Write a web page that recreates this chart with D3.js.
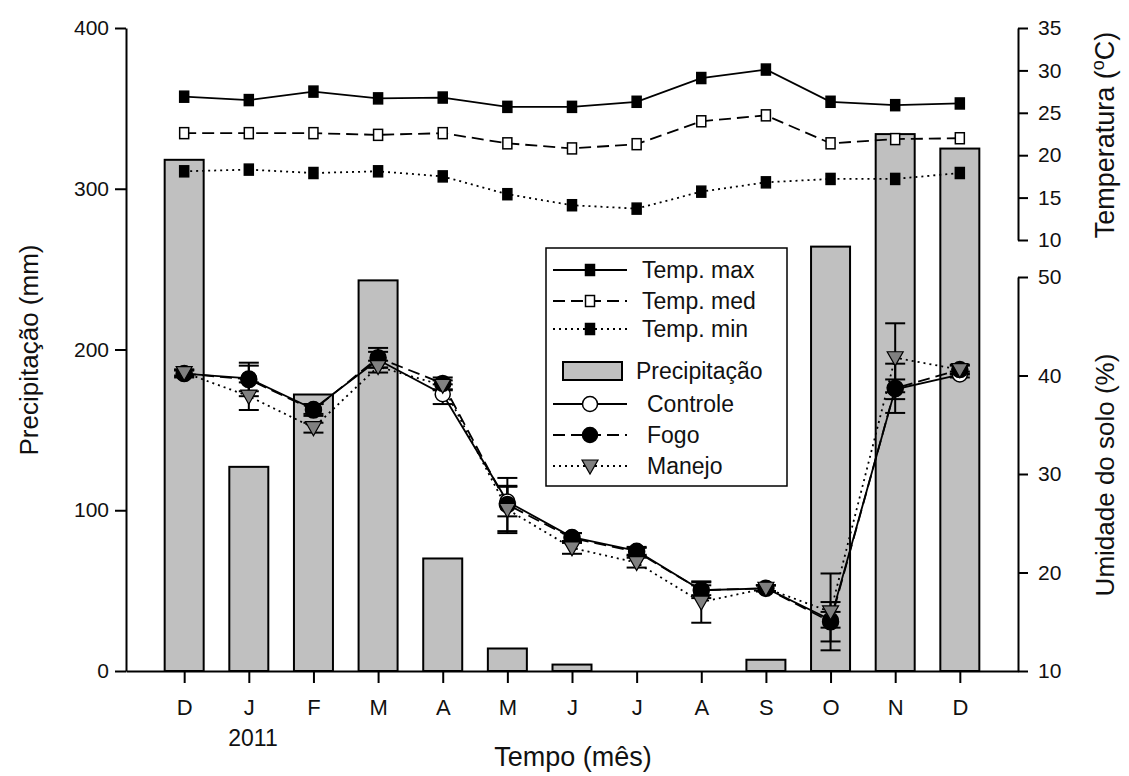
<!DOCTYPE html>
<html><head><meta charset="utf-8">
<script src="https://cdnjs.cloudflare.com/ajax/libs/d3/7.8.5/d3.min.js"></script>
<style>body{margin:0;background:#fff}svg{display:block;font-family:"Liberation Sans",Arial,sans-serif}</style>
</head><body><svg id="c" width="1129" height="776"></svg>
<script>
const months = ["D","J","F","M","A","M","J","J","A","S","O","N","D"];
const precip = [318,127,172,243,70,14,4,0,0,7,264,334,325];
const tempMax = [26.9,26.5,27.5,26.7,26.8,25.7,25.7,26.3,29.1,30.1,26.3,25.9,26.1];
const tempMed = [22.6,22.6,22.6,22.4,22.6,21.4,20.8,21.3,24.0,24.7,21.4,21.9,22.0];
const tempMin = [18.1,18.3,17.9,18.1,17.5,15.4,14.1,13.7,15.7,16.8,17.2,17.2,17.9];
const controle = [40.2,39.7,36.6,41.6,38.1,27.2,23.6,22.2,18.2,18.4,15.2,38.6,40.1];
const fogo = [40.2,39.6,36.5,41.8,39.2,26.9,23.5,22.1,18.2,18.4,15.0,38.7,40.6];
const manejo = [40.3,37.9,34.7,40.9,39.0,26.4,22.5,21.0,17.0,18.4,16.0,41.8,40.6];
const controleErr = [0.3,1.3,0.5,0.8,1.0,1.5,0.4,0.4,0.5,0.3,0.8,1.0,0.3];
const fogoErr = [0.4,1.7,0.6,1.0,0.6,2.7,0.5,0.4,0.8,0.3,2.0,2.5,0.5];
const manejoErr = [0.3,1.4,0.5,0.6,0.5,2.4,0.6,0.5,2.1,0.3,3.9,3.5,0.4];
const precipTicks = [0,100,200,300,400];
const tempTicks = [10,15,20,25,30,35];
const humTicks = [10,20,30,40,50];

const svg = d3.select("#c");
const L = 126, R = 1018, B = 671, T = 28;
const x = d3.scalePoint().domain(d3.range(months.length)).range([L, R]).padding(0.9);
const yP = d3.scaleLinear().domain([0,400]).range([B, T]);
const yT = d3.scaleLinear().domain([10,35]).range([240, T]);
const yH = d3.scaleLinear().domain([10,50]).range([B, 277]);
const idx = d3.range(months.length);

// bars
svg.append("g").selectAll("rect").data(idx).join("rect")
  .attr("x", i => x(i) - 19.5).attr("width", 39)
  .attr("y", i => yP(precip[i])).attr("height", i => B - yP(precip[i]))
  .attr("fill", "#c0c0c0").attr("stroke", "#000").attr("stroke-width", 2);

// axes
function styleAxis(g){ g.selectAll("path,line").attr("stroke","#000").attr("stroke-width",2);
  g.selectAll("text").attr("fill","#111").style("font-size","21px").style("font-family",'"Liberation Sans",Arial,sans-serif'); }
svg.append("g").attr("transform",`translate(${L},0)`)
  .call(d3.axisLeft(yP).tickValues(precipTicks).tickSize(11).tickSizeOuter(0).tickPadding(6)).call(styleAxis);
const xa = svg.append("g").attr("transform",`translate(0,${B})`)
  .call(d3.axisBottom(x).tickFormat(i => months[i]).tickSize(12).tickSizeOuter(0).tickPadding(16)).call(styleAxis);
xa.selectAll("text").style("font-size","22px");
svg.append("g").attr("transform",`translate(${R},0)`)
  .call(d3.axisRight(yT).tickValues(tempTicks).tickSize(10).tickSizeOuter(0).tickPadding(10)).call(styleAxis);
svg.append("g").attr("transform",`translate(${R},0)`)
  .call(d3.axisRight(yH).tickValues(humTicks).tickSize(10).tickSizeOuter(0).tickPadding(10)).call(styleAxis);

// temperature lines
const tSeries = [
  {v: tempMax, dash: null, fill: "#000"},
  {v: tempMed, dash: "12,6", fill: "#fff"},
  {v: tempMin, dash: "2,4", fill: "#000"}
];
tSeries.forEach(s => {
  svg.append("path").datum(idx).attr("fill","none").attr("stroke","#000").attr("stroke-width",1.8)
    .attr("stroke-dasharray", s.dash)
    .attr("d", d3.line().x(i => x(i)).y(i => yT(s.v[i])));
});
tSeries.forEach(s => {
  svg.append("g").selectAll("rect").data(idx).join("rect")
    .attr("x", i => x(i) - 4.5).attr("y", i => yT(s.v[i]) - 5.5).attr("width", 9).attr("height", 11)
    .attr("fill", s.fill).attr("stroke", "#000").attr("stroke-width", 1.5);
});

// soil humidity lines
const hSeries = [
  {v: controle, e: controleErr, dash: null},
  {v: fogo, e: fogoErr, dash: "12,6"},
  {v: manejo, e: manejoErr, dash: "2,4"}
];
hSeries.forEach(s => {
  svg.append("path").datum(idx).attr("fill","none").attr("stroke","#000").attr("stroke-width",1.8)
    .attr("stroke-dasharray", s.dash)
    .attr("d", d3.line().x(i => x(i)).y(i => yH(s.v[i])));
});
hSeries.forEach(s => {
  const g = svg.append("g").attr("stroke","#000").attr("stroke-width",2);
  idx.forEach(i => {
    const y1 = yH(s.v[i] + s.e[i]), y0 = yH(s.v[i] - s.e[i]), cx = x(i);
    g.append("line").attr("x1",cx).attr("x2",cx).attr("y1",y1).attr("y2",y0);
    g.append("line").attr("x1",cx-10).attr("x2",cx+10).attr("y1",y1).attr("y2",y1);
    g.append("line").attr("x1",cx-10).attr("x2",cx+10).attr("y1",y0).attr("y2",y0);
  });
});
svg.append("g").selectAll("circle").data(idx).join("circle")
  .attr("cx", i => x(i)).attr("cy", i => yH(controle[i])).attr("r", 7.5)
  .attr("fill","#fff").attr("stroke","#000").attr("stroke-width",1.5);
svg.append("g").selectAll("circle").data(idx).join("circle")
  .attr("cx", i => x(i)).attr("cy", i => yH(fogo[i])).attr("r", 8)
  .attr("fill","#000").attr("stroke","#000").attr("stroke-width",1.5);
const tri = (cx, cy) => `M${cx-8},${cy-6}L${cx+8},${cy-6}L${cx},${cy+8}Z`;
svg.append("g").selectAll("path").data(idx).join("path")
  .attr("d", i => tri(x(i), yH(manejo[i])))
  .attr("fill","#808080").attr("stroke","#000").attr("stroke-width",1.2);

// legend
const lg = svg.append("g");
lg.append("rect").attr("x",546).attr("y",248).attr("width",241).attr("height",238)
  .attr("fill","#fff").attr("stroke","#000").attr("stroke-width",1.5);
const legItems = [
  {label:"Temp. max", y:270, dash:null, type:"sq", fill:"#000", tx:642},
  {label:"Temp. med", y:301, dash:"12,6", type:"sq", fill:"#fff", tx:642},
  {label:"Temp. min", y:329, dash:"2,4", type:"sq", fill:"#000", tx:642},
  {label:"Precipitação", y:371, type:"bar", tx:636},
  {label:"Controle", y:404, dash:null, type:"circ", fill:"#fff", tx:647},
  {label:"Fogo", y:435, dash:"12,6", type:"circ", fill:"#000", tx:647},
  {label:"Manejo", y:466, dash:"2,4", type:"tri", tx:647}
];
legItems.forEach(it => {
  if (it.type === "bar") {
    lg.append("rect").attr("x",563).attr("y",it.y-9).attr("width",59).attr("height",18)
      .attr("fill","#c0c0c0").attr("stroke","#000").attr("stroke-width",2);
  } else {
    lg.append("line").attr("x1",553).attr("x2",627).attr("y1",it.y).attr("y2",it.y)
      .attr("stroke","#000").attr("stroke-width",1.8).attr("stroke-dasharray",it.dash);
    if (it.type === "sq") lg.append("rect").attr("x",585.5).attr("y",it.y-5.5).attr("width",9).attr("height",11)
      .attr("fill",it.fill).attr("stroke","#000").attr("stroke-width",1.5);
    if (it.type === "circ") lg.append("circle").attr("cx",590).attr("cy",it.y).attr("r",7.5)
      .attr("fill",it.fill).attr("stroke","#000").attr("stroke-width",1.5);
    if (it.type === "tri") lg.append("path").attr("d",tri(590,it.y)).attr("fill","#808080").attr("stroke","#000").attr("stroke-width",1.2);
  }
  lg.append("text").attr("x",it.tx).attr("y",it.y).attr("dy","0.35em").style("font-size","23px").attr("fill","#111").text(it.label);
});

// titles
svg.append("text").attr("x",573).attr("y",766).attr("text-anchor","middle").style("font-size","27px").attr("fill","#111").text("Tempo (mês)");
svg.append("text").attr("x",253).attr("y",746).attr("text-anchor","middle").style("font-size","23px").attr("fill","#111").text("2011");
svg.append("text").attr("transform","translate(38,350) rotate(-90)").attr("text-anchor","middle").style("font-size","26px").attr("fill","#111").text("Precipitação (mm)");
const tt = svg.append("text").attr("transform","translate(1114,135) rotate(-90)").attr("text-anchor","middle").style("font-size","27px").attr("fill","#111");
tt.append("tspan").text("Temperatura (");
tt.append("tspan").attr("dy","-10").style("font-size","18px").text("o");
tt.append("tspan").attr("dy","10").text("C)");
svg.append("text").attr("transform","translate(1114,475) rotate(-90)").attr("text-anchor","middle").style("font-size","26px").attr("fill","#111").text("Umidade do solo (%)");
</script></body></html>
